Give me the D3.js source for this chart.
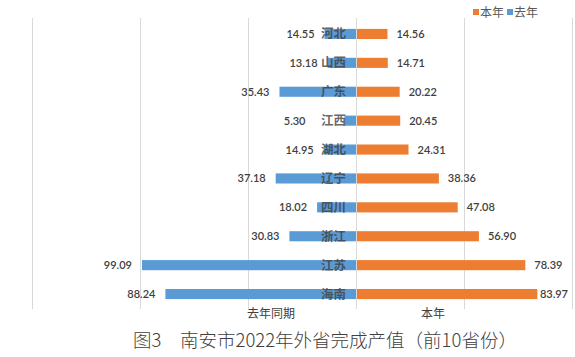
<!DOCTYPE html>
<html><head><meta charset="utf-8">
<script src="https://cdn.jsdelivr.net/npm/d3@7"></script>
<style>
html,body{margin:0;padding:0;background:#fff;}
svg{display:block;}
</style></head>
<body><svg id="c" width="575" height="357"></svg>
<script>
const provinces = ["河北","山西","广东","江西","湖北","辽宁","四川","浙江","江苏","海南"];
const thisYear = [14.56,14.71,20.22,20.45,24.31,38.36,47.08,56.90,78.39,83.97];
const lastYear = [14.55,13.18,35.43,5.30,14.95,37.18,18.02,30.83,99.09,88.24];
const gridTicks = [-150,-100,-50,0,50,100];
const seriesNames = ["本年","去年"];
const axisTitles = ["去年同期","本年"];
const titleText = "图3　南安市2022年外省完成产值（前10省份）";

const colors = {"本年":"#ED7D31","去年":"#5B9BD5"};
const svg = d3.select("#c");
const x = d3.scaleLinear().domain([-150,100]).range([32,572]);
const y = d3.scaleBand().domain(provinces).range([19.5,308.5]).paddingInner(0.65).paddingOuter(0.325);

// gridlines
svg.append("g").attr("transform","translate(0,309)")
  .call(d3.axisBottom(x).tickValues(gridTicks).tickSize(-291).tickFormat(""))
  .call(g=>g.select(".domain").remove())
  .call(g=>g.selectAll("line").attr("stroke","#d9d9d9").attr("stroke-width",1));

const dataRows = provinces.map((p,i)=>({p, cur:thisYear[i], prev:lastYear[i]}));

// bars
svg.append("g").selectAll("rect").data(dataRows).join("rect")
  .attr("x",d=>x(-d.prev)).attr("y",d=>y(d.p))
  .attr("width",d=>x(0)-x(-d.prev)).attr("height",y.bandwidth())
  .attr("fill",colors["去年"]);
svg.append("g").selectAll("rect").data(dataRows).join("rect")
  .attr("x",x(0)+1).attr("y",d=>y(d.p))
  .attr("width",d=>x(d.cur)-x(0)-1).attr("height",y.bandwidth())
  .attr("fill",colors["本年"]);

const numFont = "Lato, 'Liberation Sans', sans-serif";
const cjkFont = "'Noto Sans CJK SC', sans-serif";

// province labels
const provRight = x(0)-10;
svg.append("g").selectAll("text").data(dataRows).join("text")
  .attr("x",provRight).attr("y",d=>y(d.p)+y.bandwidth()/2)
  .attr("dy","0.36em").attr("text-anchor","end")
  .attr("font-family",cjkFont).attr("font-weight","bold").attr("font-size",12.5)
  .attr("fill","#404040").attr("fill-opacity",0.8)
  .text(d=>d.p);
const provLeft = provRight - 25.5;

// left value labels
svg.append("g").selectAll("text").data(dataRows).join("text")
  .attr("x",d=>{ let px = x(-d.prev)-10; if (px > provLeft) px = provLeft-15; return px; })
  .attr("y",d=>y(d.p)+y.bandwidth()/2).attr("dy","0.36em").attr("text-anchor","end")
  .attr("font-family",numFont).attr("font-size",11).attr("font-weight",600).attr("fill","#404040")
  .text(d=>d.prev.toFixed(2));

// right value labels
svg.append("g").selectAll("text").data(dataRows).join("text")
  .attr("y",d=>y(d.p)+y.bandwidth()/2).attr("dy","0.36em")
  .attr("font-family",numFont).attr("font-size",11).attr("font-weight",600).attr("fill","#404040")
  .text(d=>d.cur.toFixed(2))
  .attr("x",function(d){ const w=this.getComputedTextLength(); return Math.min(x(d.cur)+9, 568-w); });

// axis titles
svg.append("text").attr("x",271).attr("y",314).attr("dy","0.36em").attr("text-anchor","middle")
  .attr("font-family",cjkFont).attr("font-size",12).attr("fill","#404040").text(axisTitles[0]);
svg.append("text").attr("x",433).attr("y",314).attr("dy","0.36em").attr("text-anchor","middle")
  .attr("font-family",cjkFont).attr("font-size",12).attr("fill","#404040").text(axisTitles[1]);

// legend
const lg = svg.append("g");
let lx = 473;
seriesNames.forEach(n=>{
  lg.append("rect").attr("x",lx).attr("y",9).attr("width",6).attr("height",6).attr("fill",colors[n]);
  lg.append("text").attr("x",lx+7).attr("y",12.5).attr("dy","0.36em")
    .attr("font-family",cjkFont).attr("font-size",12).attr("fill","#595959").text(n);
  lx += 34;
});

// title
svg.append("text").attr("x",325).attr("y",340).attr("dy","0.36em").attr("text-anchor","middle")
  .attr("font-family","'Noto Sans CJK SC', sans-serif").attr("font-weight",300).attr("font-size",18.5).attr("fill","#404040")
  .text(titleText);
</script></body></html>
